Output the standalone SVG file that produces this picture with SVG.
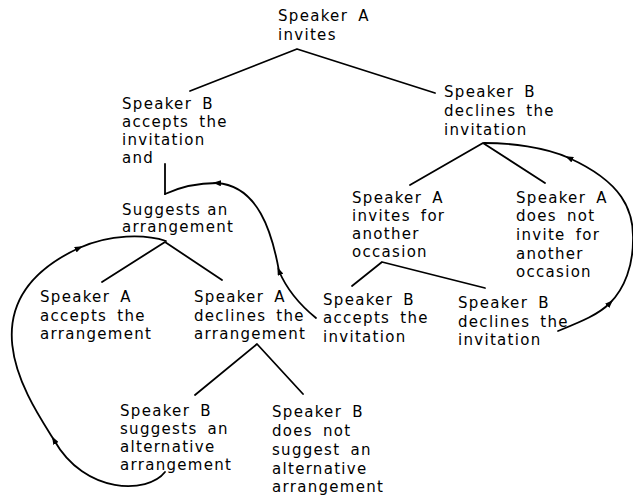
<svg xmlns="http://www.w3.org/2000/svg" width="633" height="497" viewBox="0 0 633 497">
  <style>
    text { font-family: "DejaVu Sans", "Liberation Sans", sans-serif; font-size: 15px; letter-spacing: 1.3px; fill: #000; }
    .sp { word-spacing: 4px; }
    .ln { fill: none; stroke: #000; stroke-width: 1.8; stroke-linecap: round; stroke-linejoin: round; }
    .arr { marker-end: url(#tri); }
  </style>
  <defs>
    <marker id="tri" markerUnits="userSpaceOnUse" viewBox="0 0 8 6" refX="4" refY="3" markerWidth="8" markerHeight="6" orient="auto">
      <path d="M0,0 L8,3 L0,6 Z" fill="#000"/>
    </marker>
  </defs>
  <rect width="633" height="497" fill="#fff"/>

  <g id="connectors">
    <!-- tree branches -->
    <polyline class="ln" points="190,91 297,49 435,93"/>
    <polyline class="ln" points="410,185 483,143 545,183"/>
    <polyline class="ln" points="102,282 165,242 222,280"/>
    <polyline class="ln" points="195,395 257,344 303,394"/>
    <polyline class="ln" points="352,286 382,262 485,288"/>
    <line class="ln" x1="165" y1="164" x2="165" y2="194"/>
    <!-- loop: B accepts (lower) back to suggests -->
    <path class="ln arr" d="M316,318 C300,305 287,290 279,271"/>
    <path class="ln arr" d="M279,271 C272,232 258,186 217,183"/>
    <path class="ln" d="M217,183 C195,183 178,188 165,194"/>
    <!-- left loop: B suggests alternative back to suggests -->
    <path class="ln arr" d="M165,472 C148,494 85,495 54,440"/>
    <path class="ln arr" d="M54,440 C29,400 -39,303 79,248"/>
    <path class="ln" d="M79,248 C110,234 145,234 166,241"/>
    <!-- right loop: B declines (lower) back to B declines (upper) -->
    <path class="ln arr" d="M558,331 C580,322 598,315 610,303"/>
    <path class="ln arr" d="M610,303 C625,288 633,265 633,240 C634,210 622,182 569,158"/>
    <path class="ln" d="M569,158 C545,147 510,143 484,143"/>
  </g>

  <g id="n_top">
    <text class="sp"><tspan x="278" y="21">Speaker A</tspan><tspan x="278" y="40">invites</tspan></text>
  </g>
  <g id="n_b_accepts">
    <text class="sp"><tspan x="122" y="109">Speaker B</tspan><tspan x="122" y="127">accepts the</tspan><tspan x="122" y="145">invitation</tspan><tspan x="122" y="163">and</tspan></text>
  </g>
  <g id="n_suggests">
    <text><tspan x="122" y="215">Suggests an</tspan><tspan x="122" y="232">arrangement</tspan></text>
  </g>
  <g id="n_a_accepts_arr">
    <text class="sp"><tspan x="40" y="302">Speaker A</tspan><tspan x="40" y="321">accepts the</tspan><tspan x="40" y="339">arrangement</tspan></text>
  </g>
  <g id="n_a_declines_arr">
    <text class="sp"><tspan x="194" y="302">Speaker A</tspan><tspan x="194" y="321">declines the</tspan><tspan x="194" y="339">arrangement</tspan></text>
  </g>
  <g id="n_b_suggests_alt">
    <text class="sp"><tspan x="120" y="416">Speaker B</tspan><tspan x="120" y="434">suggests an</tspan><tspan x="120" y="452">alternative</tspan><tspan x="120" y="470">arrangement</tspan></text>
  </g>
  <g id="n_b_not_suggest">
    <text class="sp"><tspan x="272" y="417">Speaker B</tspan><tspan x="272" y="436">does not</tspan><tspan x="272" y="455">suggest an</tspan><tspan x="272" y="474">alternative</tspan><tspan x="272" y="492">arrangement</tspan></text>
  </g>
  <g id="n_b_declines">
    <text class="sp"><tspan x="444" y="97">Speaker B</tspan><tspan x="444" y="116">declines the</tspan><tspan x="444" y="135">invitation</tspan></text>
  </g>
  <g id="n_a_invites_again">
    <text class="sp"><tspan x="352" y="203">Speaker A</tspan><tspan x="352" y="221">invites for</tspan><tspan x="352" y="239">another</tspan><tspan x="352" y="257">occasion</tspan></text>
  </g>
  <g id="n_a_not_invite">
    <text class="sp"><tspan x="516" y="203">Speaker A</tspan><tspan x="516" y="221">does not</tspan><tspan x="516" y="240">invite for</tspan><tspan x="516" y="259">another</tspan><tspan x="516" y="277">occasion</tspan></text>
  </g>
  <g id="n_b_accepts2">
    <text class="sp"><tspan x="323" y="305">Speaker B</tspan><tspan x="323" y="323">accepts the</tspan><tspan x="323" y="342">invitation</tspan></text>
  </g>
  <g id="n_b_declines2">
    <text class="sp"><tspan x="458" y="308">Speaker B</tspan><tspan x="458" y="327">declines the</tspan><tspan x="458" y="345">invitation</tspan></text>
  </g>
</svg>
